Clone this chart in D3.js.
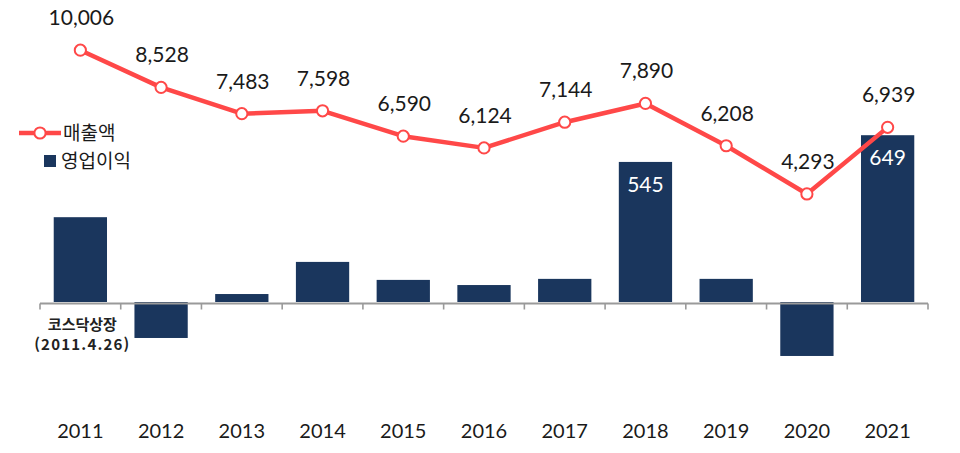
<!DOCTYPE html>
<html lang="ko">
<head>
<meta charset="UTF-8">
<title>매출액 / 영업이익</title>
<script src="https://d3js.org/d3.v7.min.js"></script>
<style>
    body { margin: 0; background: #fff; }
    svg { display: block; }
    text { font-family: Lato, "Noto Sans CJK KR", sans-serif; }
    text.kr { font-family: "Noto Sans CJK KR", sans-serif; }
</style>
</head>
<body>
<svg id="chart" width="960" height="453"></svg>
<script>
    // data
    const years = ["2011", "2012", "2013", "2014", "2015", "2016", "2017", "2018", "2019", "2020", "2021"];
    const sales = [10006, 8528, 7483, 7598, 6590, 6124, 7144, 7890, 6208, 4293, 6939];
    const profit = [330, -140, 31, 156, 86, 66, 90, 545, 90, -210, 649];
    const profitLabels = { "2018": "545", "2021": "649" };
    const seriesNames = ["매출액", "영업이익"];
    const note = ["코스닥상장", "(2011.4.26)"];

    const lineColor = "#ff4848";
    const barColor = "#1a365d";

    const svg = d3.select("#chart");

    const x = d3.scaleBand()
        .domain(years)
        .range([40, 928])
        .paddingInner(0.34)
        .paddingOuter(0.17);

    // both series share the zero line at the category axis
    const yLine = d3.scaleLinear().domain([0, 12000]).range([302, 0]);
    const yBar = d3.scaleLinear().domain([0, 1000]).range([302, 45]);

    const step = x.step();
    const center = d => x(d) + x.bandwidth() / 2;

    // bars
    svg.append("g")
        .selectAll("rect")
        .data(years)
        .join("rect")
        .attr("x", d => x(d))
        .attr("width", x.bandwidth())
        .attr("y", (d, i) => yBar(Math.max(0, profit[i])))
        .attr("height", (d, i) => Math.abs(yBar(profit[i]) - yBar(0)))
        .attr("fill", barColor);

    // axis line with ticks on category boundaries
    const axis = svg.append("g").attr("stroke", "#9a9a9a");
    axis.append("line")
        .attr("x1", 40).attr("x2", 928)
        .attr("y1", yBar(0) + 1.5).attr("y2", yBar(0) + 1.5)
        .attr("stroke-width", 2.2);
    axis.selectAll("line.tick")
        .data(d3.range(years.length + 1))
        .join("line")
        .attr("class", "tick")
        .attr("x1", i => 40 + i * step).attr("x2", i => 40 + i * step)
        .attr("y1", yBar(0) + 1.5).attr("y2", yBar(0) + 7.5)
        .attr("stroke-width", 1.6);

    // year labels
    svg.append("g")
        .selectAll("text")
        .data(years)
        .join("text")
        .attr("x", center)
        .attr("y", 438)
        .attr("text-anchor", "middle")
        .attr("font-size", 20)
        .attr("fill", "#1a1a1a")
        .text(d => d);

    // bar value labels (white, inside)
    svg.append("g")
        .selectAll("text")
        .data(years.filter(d => profitLabels[d]))
        .join("text")
        .attr("x", center)
        .attr("y", d => yBar(profit[years.indexOf(d)]) + 30)
        .attr("text-anchor", "middle")
        .attr("font-size", 21)
        .attr("fill", "#ffffff")
        .text(d => profitLabels[d]);

    // sales line
    const line = d3.line()
        .x((d, i) => center(years[i]))
        .y(d => yLine(d));

    svg.append("path")
        .datum(sales)
        .attr("d", line)
        .attr("fill", "none")
        .attr("stroke", lineColor)
        .attr("stroke-width", 4.5)
        .attr("stroke-linejoin", "round");

    svg.append("g")
        .selectAll("circle")
        .data(sales)
        .join("circle")
        .attr("cx", (d, i) => center(years[i]))
        .attr("cy", d => yLine(d))
        .attr("r", 5.6)
        .attr("fill", "#fff")
        .attr("stroke", lineColor)
        .attr("stroke-width", 2);

    svg.append("g")
        .selectAll("text")
        .data(sales)
        .join("text")
        .attr("x", (d, i) => center(years[i]) + 1)
        .attr("y", d => yLine(d) - 25)
        .attr("text-anchor", "middle")
        .attr("font-size", 21)
        .attr("fill", "#1a1a1a")
        .text(d => d3.format(",")(d));

    // listing note under 2011
    svg.append("text")
        .attr("class", "kr")
        .attr("y", 330)
        .attr("text-anchor", "middle")
        .attr("font-size", 15)
        .attr("font-weight", "bold")
        .attr("fill", "#222")
        .selectAll("tspan")
        .data(note)
        .join("tspan")
        .attr("x", center(years[0]) + 2)
        .attr("dy", (d, i) => i ? 20 : 0)
        .attr("letter-spacing", (d, i) => i ? 1.2 : 0)
        .text(d => d);

    // legend
    const legend = svg.append("g").attr("font-size", 19).attr("fill", "#1a1a1a");
    legend.append("line")
        .attr("x1", 19).attr("x2", 61).attr("y1", 133).attr("y2", 133)
        .attr("stroke", lineColor).attr("stroke-width", 4.5);
    legend.append("circle")
        .attr("cx", 40).attr("cy", 133).attr("r", 5.6)
        .attr("fill", "#fff").attr("stroke", lineColor).attr("stroke-width", 2);
    legend.append("text")
        .attr("class", "kr")
        .attr("x", 63).attr("y", 140)
        .text(seriesNames[0]);
    legend.append("rect")
        .attr("x", 44).attr("y", 155).attr("width", 12).attr("height", 12)
        .attr("fill", barColor);
    legend.append("text")
        .attr("class", "kr")
        .attr("x", 61).attr("y", 168)
        .text(seriesNames[1]);
</script>
</body>
</html>
